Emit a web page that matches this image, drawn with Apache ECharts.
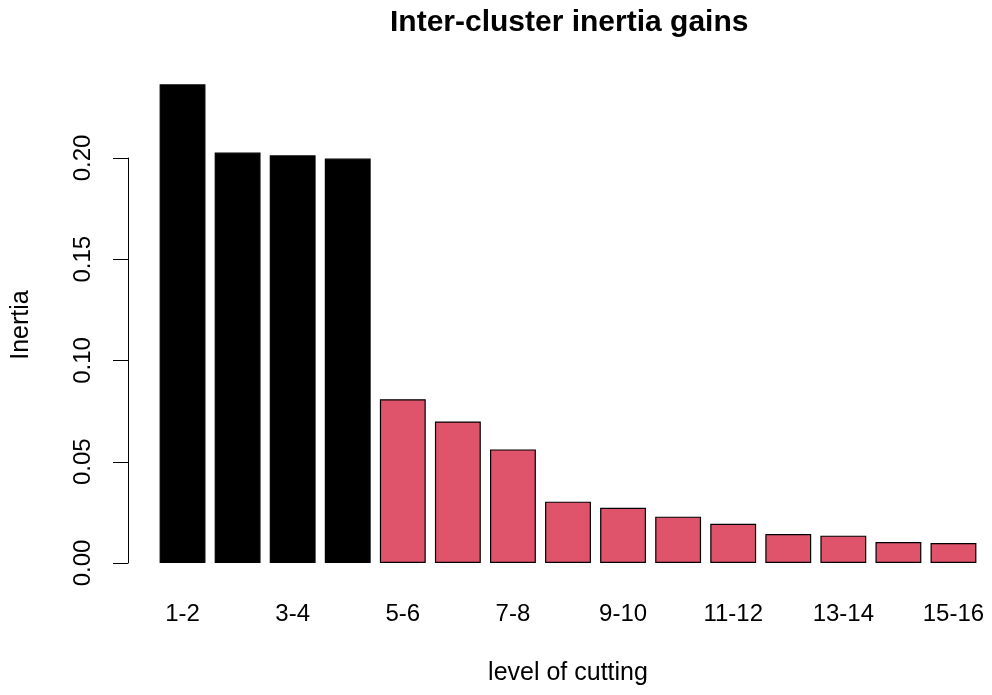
<!DOCTYPE html>
<html>
<head>
<meta charset="utf-8">
<script src="https://cdn.jsdelivr.net/npm/echarts@6/dist/echarts.min.js"></script>
<style>
  html, body { margin: 0; padding: 0; background: #ffffff; }
  #chart { width: 992px; height: 695px; }
</style>
</head>
<body>
<div id="chart"></div>
<script>
// Data
const categories = ['1-2','2-3','3-4','4-5','5-6','6-7','7-8','8-9','9-10','10-11','11-12','12-13','13-14','14-15','15-16'];
const inertia = [0.2364, 0.2027, 0.2013, 0.1997, 0.0809, 0.0699, 0.0561, 0.0303, 0.0273, 0.0229, 0.0194, 0.0143, 0.0135, 0.0104, 0.0099];
const clusterGroup = [0, 0, 0, 0, 1, 1, 1, 1, 1, 1, 1, 1, 1, 1, 1];
const yTicks = [0, 0.05, 0.10, 0.15, 0.20];

const palette = ['#000000', '#DF536B'];
const FONT = '"Liberation Sans", Arial, Helvetica, sans-serif';

const chart = echarts.init(document.getElementById('chart'), null, { renderer: 'canvas' });

chart.setOption({
  animation: false,
  backgroundColor: '#ffffff',
  textStyle: { fontFamily: FONT, color: '#000000' },
  title: {
    text: 'Inter-cluster inertia gains',
    left: 385,
    top: 3,
    textStyle: { fontFamily: FONT, fontSize: 30, fontWeight: 'bold', color: '#000000' }
  },
  grid: { left: 155, right: 11, top: 158, bottom: 132, containLabel: false },
  xAxis: {
    type: 'category',
    data: categories,
    name: 'level of cutting',
    nameLocation: 'middle',
    nameGap: 98,
    nameTextStyle: { fontFamily: FONT, fontSize: 25, color: '#000000' },
    axisLine: { show: false },
    axisTick: { show: false },
    axisLabel: { interval: 1, fontFamily: FONT, fontSize: 24, color: '#000000', margin: 39 },
    splitLine: { show: false }
  },
  yAxis: {
    type: 'value',
    min: yTicks[0],
    max: yTicks[yTicks.length - 1],
    interval: 0.05,
    offset: 27,
    name: 'Inertia',
    nameLocation: 'middle',
    nameGap: 94,
    nameRotate: 90,
    nameTextStyle: { fontFamily: FONT, fontSize: 25, color: '#000000', padding: [0, 0, 0, 71] },
    axisLine: { show: true, lineStyle: { color: '#000000', width: 1 } },
    axisTick: { show: true, inside: false, length: 15, lineStyle: { color: '#000000', width: 1 } },
    axisLabel: {
      rotate: 90,
      fontFamily: FONT, fontSize: 24, color: '#000000', margin: 33,
      formatter: v => v.toFixed(2)
    },
    splitLine: { show: false }
  },
  series: [{
    type: 'bar',
    clip: false,
    barCategoryGap: '16.7%',
    data: inertia.map((v, i) => ({
      value: v,
      itemStyle: { color: palette[clusterGroup[i]], borderColor: '#000000', borderWidth: 1.2 }
    }))
  }]
});
</script>
</body>
</html>
